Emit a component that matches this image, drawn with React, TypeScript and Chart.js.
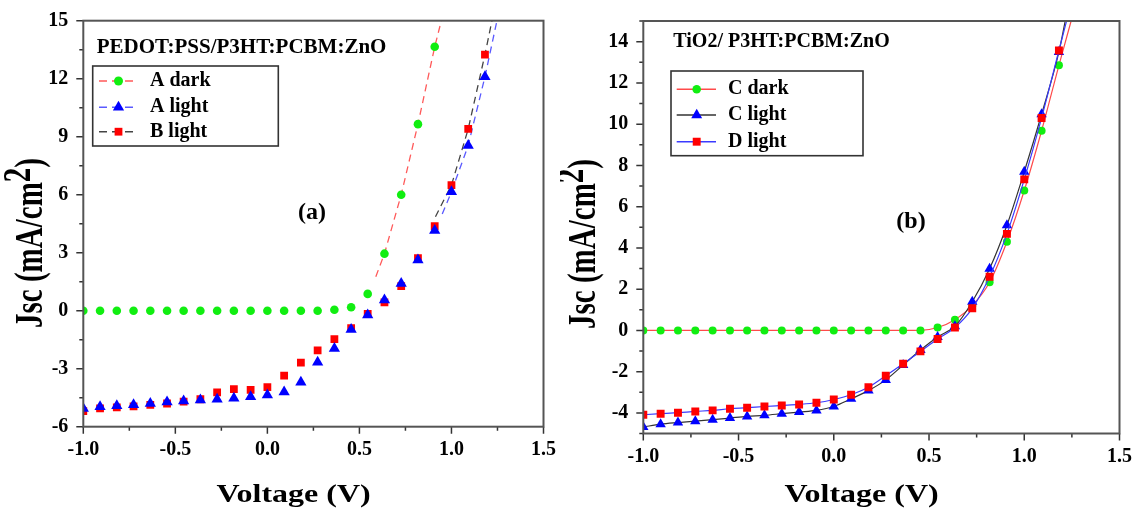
import { useEffect, useRef } from 'react';
import { Chart, registerables } from 'chart.js';

Chart.register(...registerables);

const SERIF = '"Liberation Serif", "Times New Roman", Times, serif';

// ---------- shared voltage grid (V) ----------
const voltage = [
  -1.0, -0.909, -0.818, -0.727, -0.636, -0.545, -0.455, -0.364, -0.273, -0.182, -0.091, 0.0,
  0.091, 0.182, 0.273, 0.364, 0.455, 0.545, 0.636, 0.727, 0.818, 0.909, 1.0, 1.091, 1.182,
];

// ---------- panel (a): PEDOT:PSS/P3HT:PCBM:ZnO ----------
const aDarkJsc = [0, 0, 0, 0, 0, 0, 0, 0, 0, 0, 0, 0, 0, 0, 0, 0.05, 0.18, 0.87, 2.95, 6.0, 9.65, 13.65];
const aLightJsc = [
  -5.06, -4.97, -4.92, -4.87, -4.8, -4.72, -4.67, -4.62, -4.58, -4.53, -4.45, -4.36, -4.21, -3.7,
  -2.66, -1.95, -0.97, -0.22, 0.55, 1.41, 2.62, 4.15, 6.15, 8.55, 12.1,
];
const bLightJsc = [
  -5.2, -5.05, -5.0, -4.95, -4.87, -4.8, -4.7, -4.58, -4.23, -4.06, -4.1, -3.95, -3.36, -2.69,
  -2.05, -1.47, -0.9, -0.16, 0.43, 1.27, 2.72, 4.38, 6.5, 9.4, 13.25,
];
// dashed fit lines
const aDarkFitV = [0.589, 0.636, 0.727, 0.818, 0.909, 0.945];
const aDarkFitJ = [1.76, 2.95, 6.0, 9.65, 13.65, 15.0];
const aLightFitV = [0.95, 1.0, 1.091, 1.182, 1.247];
const aLightFitJ = [5.0, 6.15, 8.55, 12.1, 15.0];
const bLightFitV = [0.913, 1.0, 1.091, 1.182, 1.22];
const bLightFitJ = [4.86, 6.5, 9.4, 13.25, 15.0];

// ---------- panel (b): TiO2/ P3HT:PCBM:ZnO ----------
const cDarkJsc = [
  0, 0, 0, 0, 0, 0, 0, 0, 0, 0, 0, 0, 0, 0, 0, 0, 0, 0.14, 0.52, 1.2, 2.33, 4.3, 6.78, 9.68, 12.85,
];
const cLightJsc = [
  -4.68, -4.55, -4.47, -4.4, -4.33, -4.25, -4.17, -4.12, -4.04, -3.96, -3.88, -3.69, -3.32, -2.92,
  -2.4, -1.68, -0.95, -0.32, 0.2, 1.39, 2.99, 5.1, 7.69, 10.48, 13.5,
];
const dLightJsc = [
  -4.09, -4.04, -3.99, -3.93, -3.88, -3.8, -3.75, -3.69, -3.64, -3.59, -3.51, -3.35, -3.12, -2.76,
  -2.2, -1.62, -1.02, -0.42, 0.14, 1.07, 2.6, 4.68, 7.32, 10.3, 13.57,
];
// where each connecting line leaves the top of the frame
const cDarkTail = [1.246, 15.0];
const cLightTail = [1.215, 15.0];
const dLightTail = [1.222, 15.0];

const GREEN = '#11ee11';
const BLUE = '#0000ff';
const RED = '#ff0000';

type MarkerKind = 'circle' | 'triangle' | 'rect';

const pts = (xs: number[], ys: number[]) => ys.map((y, i) => ({ x: xs[i], y }));

function drawMarker(ctx: CanvasRenderingContext2D, kind: MarkerKind, x: number, y: number, r: number, color: string) {
  ctx.fillStyle = color;
  ctx.beginPath();
  if (kind === 'circle') ctx.arc(x, y, r, 0, Math.PI * 2);
  else if (kind === 'triangle') {
    ctx.moveTo(x, y - r);
    ctx.lineTo(x + r * 0.866, y + r * 0.5);
    ctx.lineTo(x - r * 0.866, y + r * 0.5);
    ctx.closePath();
  } else {
    const s = r * 0.7071;
    ctx.rect(x - s, y - s, 2 * s, 2 * s);
  }
  ctx.fill();
}

interface LegendItem {
  label: string;
  lineColor: string;
  marker: MarkerKind;
  markerColor: string;
  r: number;
}

interface Deco {
  title: string;
  titleX: number;
  titleY: number;
  titleSize: number;
  box: [number, number, number, number];
  items: LegendItem[];
  rowsY: number[];
  lineX: [number, number];
  markerX: number;
  textX: number;
  dashed: boolean;
  panel: string;
  panelX: number;
  panelY: number;
  xTitleX: number;
  xTitleY: number;
  yTitleX: number;
  yTitleY: number;
}

function makeDeco(d: Deco) {
  return {
    id: 'deco',
    afterDraw(chart: any) {
      const { ctx, chartArea: ca, scales } = chart;
      const xs = scales.x;
      const ys = scales.y;
      ctx.save();
      // tick marks (outward)
      ctx.strokeStyle = '#333';
      ctx.lineWidth = 1.5;
      ctx.beginPath();
      xs.ticks.forEach((t: any) => {
        const p = xs.getPixelForValue(t.value);
        const len = t.label !== '' ? 7 : 4;
        ctx.moveTo(p, ca.bottom);
        ctx.lineTo(p, ca.bottom + len);
      });
      ys.ticks.forEach((t: any) => {
        const p = ys.getPixelForValue(t.value);
        const len = t.label !== '' ? 7 : 4;
        ctx.moveTo(ca.left, p);
        ctx.lineTo(ca.left - len, p);
      });
      ctx.stroke();
      // frame
      ctx.strokeStyle = '#555';
      ctx.lineWidth = 2;
      ctx.strokeRect(ca.left, ca.top, ca.right - ca.left, ca.bottom - ca.top);

      // inner title
      ctx.fillStyle = '#000';
      ctx.font = `bold ${d.titleSize}px ${SERIF}`;
      ctx.textAlign = 'left';
      ctx.textBaseline = 'middle';
      ctx.fillText(d.title, d.titleX, d.titleY);

      // legend box
      const [bx, by, bw, bh] = d.box;
      ctx.fillStyle = '#fff';
      ctx.fillRect(bx, by, bw, bh);
      ctx.strokeStyle = '#333';
      ctx.lineWidth = 1.6;
      ctx.strokeRect(bx, by, bw, bh);
      d.items.forEach((it, i) => {
        const y = d.rowsY[i];
        ctx.save();
        ctx.strokeStyle = it.lineColor;
        ctx.lineWidth = 1.4;
        if (d.dashed) ctx.setLineDash([8, 5]);
        ctx.beginPath();
        ctx.moveTo(d.lineX[0], y);
        ctx.lineTo(d.lineX[1], y);
        ctx.stroke();
        ctx.restore();
        drawMarker(ctx, it.marker, d.markerX, y, it.r, it.markerColor);
        ctx.fillStyle = '#000';
        ctx.font = `bold 20px ${SERIF}`;
        ctx.textAlign = 'left';
        ctx.textBaseline = 'middle';
        ctx.fillText(it.label, d.textX, y);
      });

      // panel label
      ctx.font = `bold 24px ${SERIF}`;
      ctx.textAlign = 'center';
      ctx.fillText(d.panel, d.panelX, d.panelY);

      // x title (wide bold)
      ctx.save();
      ctx.translate(d.xTitleX, d.xTitleY);
      ctx.scale(1.23, 1);
      ctx.font = `bold 26px ${SERIF}`;
      ctx.textAlign = 'center';
      ctx.textBaseline = 'middle';
      ctx.fillText('Voltage (V)', 0, 0);
      ctx.restore();

      // y title with raised 2
      ctx.save();
      ctx.translate(d.yTitleX, d.yTitleY);
      ctx.scale(1.35, 1);
      ctx.rotate(-Math.PI / 2);
      const size = 29;
      ctx.font = `bold ${size}px ${SERIF}`;
      ctx.textAlign = 'left';
      ctx.textBaseline = 'middle';
      const a = 'Jsc (mA/cm';
      const b = '2';
      const c = ')';
      const wa = ctx.measureText(a).width;
      const wb = ctx.measureText(b).width;
      const wc = ctx.measureText(c).width;
      let x = -(wa + wb + wc) / 2;
      ctx.fillText(a, x, 0);
      x += wa;
      ctx.fillText(b, x, -size * 0.3);
      x += wb;
      ctx.fillText(c, x, 0);
      ctx.restore();

      ctx.restore();
    },
  };
}

function axisFont() {
  return { family: SERIF, size: 20, weight: 'bold' as const };
}

const isMult = (v: number, m: number) => Math.abs(v / m - Math.round(v / m)) < 1e-6;

function baseScales(opts: {
  yMin: number; yMax: number; yStep: number; yMajor: number; yWidth: number; xHeight: number;
}) {
  return {
    x: {
      type: 'linear' as const,
      min: -1,
      max: 1.5,
      ticks: {
        stepSize: 0.25,
        autoSkip: false,
        maxRotation: 0,
        padding: 4,
        color: '#000',
        font: axisFont(),
        callback: (v: any) => (isMult(Number(v), 0.5) ? Number(v).toFixed(1) : ''),
      },
      grid: { display: true, drawOnChartArea: false, drawTicks: true, tickLength: 7, tickColor: 'rgba(0,0,0,0)' },
      border: { display: false },
      afterFit: (s: any) => { s.height = opts.xHeight; },
    },
    y: {
      type: 'linear' as const,
      min: opts.yMin,
      max: opts.yMax,
      ticks: {
        stepSize: opts.yStep,
        autoSkip: false,
        padding: 8,
        color: '#000',
        font: axisFont(),
        callback: (v: any) => (isMult(Number(v), opts.yMajor) ? String(Math.round(Number(v))) : ''),
      },
      grid: { display: true, drawOnChartArea: false, drawTicks: true, tickLength: 7, tickColor: 'rgba(0,0,0,0)' },
      border: { display: false },
      afterFit: (s: any) => { s.width = opts.yWidth; },
    },
  };
}

function leftConfig(): any {
  const deco = makeDeco({
    title: 'PEDOT:PSS/P3HT:PCBM:ZnO',
    titleX: 96.7, titleY: 47.7, titleSize: 21,
    box: [92.7, 66, 185.6, 80],
    items: [
      { label: 'A dark', lineColor: '#ff5a5a', marker: 'circle', markerColor: GREEN, r: 4.5 },
      { label: 'A light', lineColor: '#5a5aff', marker: 'triangle', markerColor: BLUE, r: 6.5 },
      { label: 'B light', lineColor: '#444', marker: 'rect', markerColor: RED, r: 5.5 },
    ],
    rowsY: [81, 107.3, 131.7],
    lineX: [99, 138], markerX: 118.5, textX: 150, dashed: true,
    panel: '(a)', panelX: 312, panelY: 213,
    xTitleX: 293.5, xTitleY: 495, yTitleX: 32, yTitleY: 243,
  });
  const fit = (xs: number[], ys: number[], color: string, order: number) => ({
    data: pts(xs, ys), showLine: true, borderColor: color, borderWidth: 1.3, borderDash: [7, 5],
    pointRadius: 0, order,
  });
  return {
    type: 'scatter',
    data: {
      datasets: [
        { label: 'A light', data: pts(voltage, aLightJsc), showLine: false, pointStyle: 'triangle', pointRadius: 6.5,
          pointBackgroundColor: BLUE, pointBorderColor: BLUE, pointBorderWidth: 0, order: 0 },
        { label: 'B light', data: pts(voltage, bLightJsc), showLine: false, pointStyle: 'rect', pointRadius: 5.5,
          pointBackgroundColor: RED, pointBorderColor: RED, pointBorderWidth: 0, order: 1 },
        { label: 'A dark', data: pts(voltage, aDarkJsc), showLine: false, pointStyle: 'circle', pointRadius: 4.3,
          pointBackgroundColor: GREEN, pointBorderColor: GREEN, pointBorderWidth: 0, order: 2 },
        fit(aDarkFitV, aDarkFitJ, '#ff5a5a', 3),
        fit(bLightFitV, bLightFitJ, '#444', 4),
        fit(aLightFitV, aLightFitJ, '#5a5aff', 5),
      ],
    },
    options: {
      responsive: false,
      animation: false,
      layout: { padding: { top: 20.7, right: 15, left: 0, bottom: 0 } },
      plugins: { legend: { display: false }, tooltip: { enabled: false } },
      scales: baseScales({ yMin: -6, yMax: 15, yStep: 1.5, yMajor: 3, yWidth: 83.3, xHeight: 84.3 }),
    },
    plugins: [deco],
  };
}

function rightConfig(): any {
  const deco = makeDeco({
    title: 'TiO2/ P3HT:PCBM:ZnO',
    titleX: 113.3, titleY: 41.7, titleSize: 20,
    box: [111, 71, 192, 84.7],
    items: [
      { label: 'C dark', lineColor: '#ff4a4a', marker: 'circle', markerColor: GREEN, r: 4.3 },
      { label: 'C light', lineColor: '#333', marker: 'triangle', markerColor: BLUE, r: 6.3 },
      { label: 'D light', lineColor: '#3a3aff', marker: 'rect', markerColor: RED, r: 5.6 },
    ],
    rowsY: [89.3, 115, 141.7],
    lineX: [116.7, 156], markerX: 136.7, textX: 168, dashed: false,
    panel: '(b)', panelX: 351, panelY: 221.7,
    xTitleX: 301.5, xTitleY: 495, yTitleX: 25, yTitleY: 244,
  });
  const series = (ys: number[], tail: number[], line: string, mc: string, style: string, r: number, order: number) => ({
    data: pts(voltage, ys).concat([{ x: tail[0], y: tail[1] }]),
    showLine: true,
    borderColor: line,
    borderWidth: 1.2,
    cubicInterpolationMode: 'monotone',
    pointStyle: style,
    pointRadius: (c: any) => (c.dataIndex < ys.length ? r : 0),
    pointBackgroundColor: mc,
    pointBorderColor: mc,
    pointBorderWidth: 0,
    order,
  });
  return {
    type: 'scatter',
    data: {
      datasets: [
        series(dLightJsc, dLightTail, '#3a3aff', RED, 'rect', 5.6, 0),
        series(cLightJsc, cLightTail, '#333', BLUE, 'triangle', 6.0, 1),
        series(cDarkJsc, cDarkTail, '#ff4a4a', GREEN, 'circle', 4.0, 2),
      ],
    },
    options: {
      responsive: false,
      animation: false,
      layout: { padding: { top: 21, right: 16, left: 0, bottom: 0 } },
      plugins: { legend: { display: false }, tooltip: { enabled: false } },
      scales: baseScales({ yMin: -5, yMax: 15, yStep: 1, yMajor: 2, yWidth: 83.3, xHeight: 77.5 }),
    },
    plugins: [deco],
  };
}

function Panel({ make, left, width }: { make: () => any; left: number; width: number }) {
  const ref = useRef<HTMLCanvasElement>(null);
  useEffect(() => {
    const chart = new Chart(ref.current as HTMLCanvasElement, make());
    return () => chart.destroy();
  }, [make]);
  return (
    <canvas
      ref={ref}
      width={width}
      height={511}
      style={{ position: 'absolute', left, top: 0, width, height: 511 }}
    />
  );
}

export default function App() {
  return (
    <div style={{ position: 'absolute', left: 0, top: 0, width: 1136, height: 511, background: '#fff' }}>
      <Panel make={leftConfig} left={0} width={560} />
      <Panel make={rightConfig} left={560} width={576} />
    </div>
  );
}
